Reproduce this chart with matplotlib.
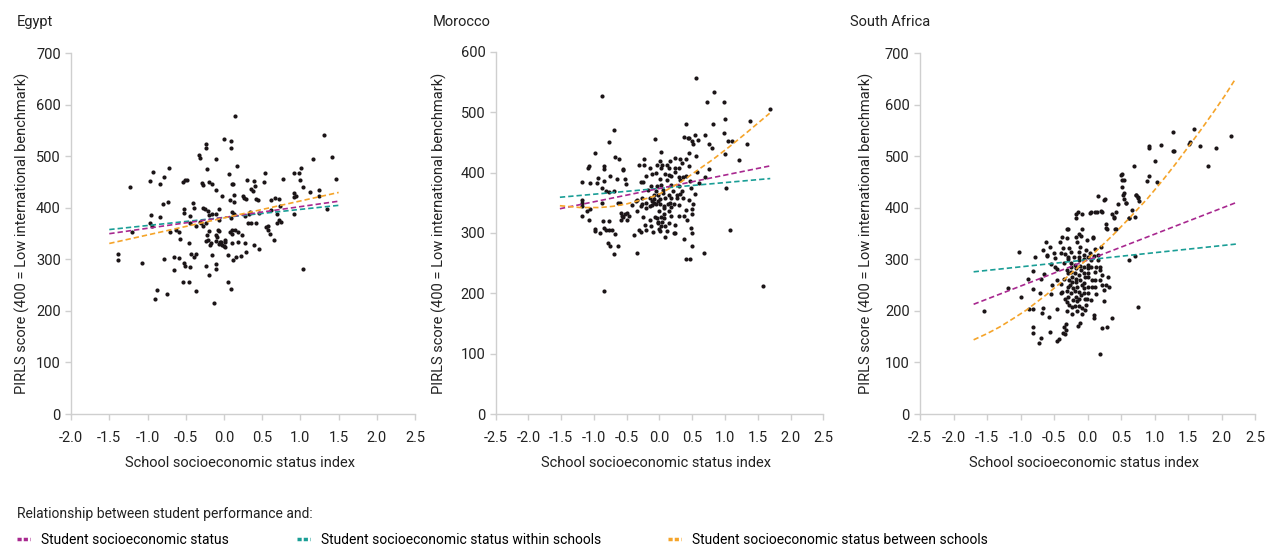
import matplotlib
matplotlib.use('Agg')
import matplotlib.pyplot as plt
from matplotlib.lines import Line2D

plt.rcParams['font.family'] = ['Roboto', 'DejaVu Sans']

# colours of the three relationships
c_sess = '#a8288f'
c_within = '#1a9e96'
c_between = '#f5a42a'
c_dot = '#1b1517'
c_axis = '#cfcfcf'
c_text = '#222222'

# --- Egypt: schools (SES index, PIRLS score)
egypt_x = [-1.39, -1.39, -1.23, -1.20, -1.07, -0.97, -0.97, -0.96, -0.94, -0.93,
           -0.90, -0.87, -0.84, -0.84, -0.80, -0.78, -0.78, -0.75, -0.73, -0.72,
           -0.71, -0.66, -0.66, -0.63, -0.59, -0.59, -0.58, -0.54, -0.52, -0.52,
           -0.53, -0.52, -0.51, -0.51, -0.49, -0.46, -0.46, -0.45, -0.45, -0.45,
           -0.43, -0.41, -0.39, -0.39, -0.37, -0.37, -0.36, -0.33, -0.31, -0.32,
           -0.30, -0.29, -0.28, -0.28, -0.27, -0.25, -0.24, -0.24, -0.24, -0.24,
           -0.23, -0.22, -0.22, -0.21, -0.21, -0.20, -0.19, -0.19, -0.19, -0.18,
           -0.17, -0.16, -0.16, -0.15, -0.13, -0.11, -0.11, -0.11, -0.11, -0.10,
           -0.10, -0.10, -0.09, -0.08, -0.07, -0.07, -0.07, -0.06, -0.05, -0.04,
           -0.03, -0.02, 0.00, 0.00, 0.01, 0.02, 0.02, 0.05, 0.05, 0.07,
           0.08, 0.08, 0.09, 0.09, 0.09, 0.09, 0.10, 0.10, 0.10, 0.10,
           0.11, 0.12, 0.12, 0.13, 0.13, 0.13, 0.14, 0.15, 0.16, 0.17,
           0.18, 0.18, 0.22, 0.24, 0.25, 0.26, 0.28, 0.28, 0.29, 0.29,
           0.30, 0.31, 0.33, 0.34, 0.35, 0.36, 0.38, 0.39, 0.39, 0.40,
           0.42, 0.42, 0.44, 0.46, 0.46, 0.52, 0.54, 0.55, 0.57, 0.58,
           0.60, 0.62, 0.62, 0.66, 0.67, 0.69, 0.70, 0.72, 0.72, 0.73,
           0.74, 0.77, 0.91, 0.91, 0.92, 0.92, 0.94, 0.98, 0.99, 1.01,
           1.03, 1.03, 1.12, 1.17, 1.24, 1.24, 1.31, 1.35, 1.41, 1.47]
egypt_y = [310, 299, 441, 353, 294, 453, 371, 386, 365, 470,
           224, 241, 447, 382, 408, 460, 301, 232, 411, 477,
           353, 304, 279, 358, 303, 353, 340, 451, 397, 391,
           257, 294, 287, 454, 455, 332, 257, 285, 384, 370,
           310, 409, 400, 305, 310, 365, 238, 503, 496, 373,
           371, 449, 444, 365, 400, 397, 288, 525, 516, 371,
           335, 476, 347, 394, 338, 270, 356, 386, 450, 328,
           332, 446, 389, 309, 216, 435, 494, 292, 282, 389,
           347, 336, 344, 357, 397, 329, 376, 355, 333, 334,
           328, 423, 533, 327, 325, 334, 337, 309, 256, 466,
           415, 353, 530, 517, 380, 243, 446, 393, 357, 349,
           332, 446, 298, 389, 412, 426, 358, 578, 305, 482,
           334, 353, 307, 347, 423, 420, 332, 384, 418, 315,
           455, 371, 389, 393, 371, 437, 432, 328, 453, 443,
           417, 371, 415, 391, 321, 451, 467, 362, 357, 365,
           349, 396, 415, 337, 419, 389, 370, 376, 417, 404,
           373, 457, 467, 429, 388, 422, 424, 467, 454, 477,
           281, 441, 431, 495, 424, 434, 541, 398, 499, 457]
egypt_line_x = [-1.5, 1.5]
egypt_sess = [350, 413]
egypt_within = [358, 405]
egypt_between_x = [-1.5, 1.5]
egypt_between = [331, 430]

# --- Morocco
morocco_x = [0.56, 0.83, -0.88, 0.72, 0.98, 1.68, 1.00, 1.38, 0.40, 0.82,
             0.99, -0.69, 0.69, 0.54, 1.10, 0.37, 0.43, 0.45, 0.58, 0.49,
             1.05, -0.07, 0.76, 1.33, 0.51, -0.77, 0.80, 0.02, -0.98, 1.00,
             0.45, 0.56, -0.68, -0.62, 0.23, -0.23, 0.31, 0.40, 1.22, 0.16,
             0.01, 0.35, -0.31, -0.24, -0.04, 0.04, 0.11, -1.08, -1.09, -0.85,
             -0.85, -0.55, -0.56, -0.15, 0.45, 0.75, 0.03, 0.14, 0.24, 0.30,
             0.57, -0.05, 0.09, 0.14, 0.23, 0.41, -0.75, -0.94, -0.52, -0.20,
             -0.11, 0.18, 0.29, 0.36, 0.70, -1.19, -1.06, -0.84, -0.65, -0.28,
             -0.25, 0.01, 0.11, 0.31, 0.46, -0.95, -0.51, -0.13, -0.04, 0.03,
             0.17, 0.29, 0.48, 0.61, -0.87, -0.82, -0.77, -0.69, -0.18, -0.06,
             0.06, 0.21, 0.35, -0.09, -0.02, 0.05, 0.14, 0.26, 0.31, 0.54,
             1.01, -0.27, -0.15, -0.08, 0.01, 0.08, 0.17, 0.26, 0.36, -1.19,
             -1.19, -0.87, -0.63, -0.61, -0.35, -0.36, -0.26, -0.21, -0.11, -0.08,
             -0.06, -0.02, 0.01, 0.07, 0.13, 0.16, 0.22, 0.30, 0.45, 0.51,
             -1.19, -0.42, -0.28, -0.21, -0.15, -0.12, 0.07, 0.17, 0.50, -1.11,
             -1.06, -0.35, -0.01, 0.14, 0.41, -0.52, -0.50, -0.58, 0.07, 0.17,
             0.38, -1.18, -0.57, -0.55, -0.46, -0.25, -0.07, 0.03, 0.50, -1.08,
             -0.59, -0.50, -0.04, 0.07, 0.30, -0.15, -0.03, 0.04, -0.86, -0.77,
             -0.02, 0.15, 0.42, -0.22, -0.13, 0.03, 0.09, 0.23, -0.98, -0.98,
             -0.91, -0.85, -0.81, -0.77, -0.73, -0.68, -0.39, -0.32, -0.28, -0.20,
             -0.10, -0.01, 0.01, 0.11, 0.22, 0.24, 0.48, 0.49, 1.08, 0.08,
             0.38, -0.79, -0.75, -0.63, -0.69, 0.49, -0.35, 0.68, 0.41, 0.46,
             -0.84, 1.58]
morocco_y = [556, 534, 527, 517, 517, 506, 488, 486, 481, 480,
             465, 470, 462, 462, 452, 458, 457, 457, 454, 452,
             453, 455, 448, 448, 447, 451, 440, 434, 433, 430,
             432, 428, 425, 423, 424, 422, 423, 422, 420, 419,
             419, 415, 412, 412, 413, 412, 413, 411, 408, 411,
             405, 406, 404, 407, 411, 406, 407, 407, 407, 407,
             401, 400, 398, 396, 401, 395, 394, 391, 390, 394,
             397, 394, 392, 392, 392, 384, 383, 386, 389, 385,
             385, 389, 387, 387, 386, 383, 381, 378, 378, 380,
             380, 378, 375, 383, 375, 369, 367, 369, 371, 369,
             371, 370, 369, 363, 362, 366, 363, 362, 364, 365,
             374, 358, 358, 356, 356, 358, 358, 358, 357, 355,
             350, 350, 350, 350, 355, 353, 348, 350, 352, 350,
             348, 352, 348, 345, 348, 350, 348, 347, 354, 348,
             344, 347, 344, 341, 344, 346, 341, 343, 339, 336,
             339, 337, 337, 337, 338, 331, 333, 333, 332, 328,
             328, 328, 328, 326, 328, 326, 327, 327, 332, 322,
             321, 321, 324, 324, 328, 322, 318, 318, 320, 320,
             316, 316, 321, 313, 312, 312, 312, 313, 306, 303,
             299, 308, 305, 305, 305, 298, 297, 305, 301, 305,
             301, 307, 303, 303, 300, 299, 308, 299, 305, 294,
             290, 283, 278, 279, 265, 279, 267, 267, 257, 256,
             203, 212]
morocco_line_x = [-1.52, 1.69]
morocco_sess = [340, 411]
morocco_within = [359, 390]
morocco_between_x = [-1.52, -1.21, -0.91, -0.71, -0.50, -0.30, -0.10, 0.01,
                     0.31, 0.57, 0.82, 1.07, 1.33, 1.68]
morocco_between = [345, 342, 342, 344, 348, 354, 360, 365,
                   383, 403, 422, 443, 466, 498]

# --- South Africa
sa_x = [-1.54, -1.03, -1.18, -0.99, -0.88, -0.82, -0.81, -0.81, -0.78, -0.89,
        -0.71, -0.70, -0.67, -0.65, -0.62, -0.61, -0.60, -0.56, -0.54, -0.53,
        -0.54, -0.57, -0.56, -0.82, -0.81, -0.72, -0.69, -0.66, -0.68, -0.50,
        -0.49, -0.48, -0.46, -0.45, -0.45, -0.43, -0.45, -0.41, -0.40, -0.40,
        -0.40, -0.38, -0.36, -0.38, -0.33, -0.35, -0.35, -0.33, -0.35, -0.36,
        -0.31, -0.29, -0.30, -0.28, -0.29, -0.29, -0.30, -0.29, -0.28, -0.29,
        -0.30, -0.29, -0.30, -0.28, -0.30, -0.32, -0.32, -0.33, -0.25, -0.24,
        -0.24, -0.25, -0.23, -0.23, -0.26, -0.22, -0.25, -0.22, -0.23, -0.23,
        -0.20, -0.19, -0.17, -0.19, -0.17, -0.17, -0.16, -0.18, -0.17, -0.16,
        -0.19, -0.16, -0.17, -0.14, -0.17, -0.17, -0.13, -0.10, -0.15, -0.11,
        -0.12, -0.13, -0.12, -0.11, -0.10, -0.13, -0.11, -0.09, -0.12, -0.10,
        -0.12, -0.13, -0.08, -0.09, -0.11, -0.14, -0.08, -0.08, -0.06, -0.06,
        -0.06, -0.06, -0.04, -0.05, -0.05, -0.06, -0.04, -0.03, -0.04, -0.01,
        -0.02, 0.00, 0.00, 0.01, 0.00, 0.01, 0.00, 0.01, -0.01, 0.04,
        0.04, 0.05, 0.05, 0.06, 0.07, 0.05, 0.08, 0.11, 0.11, 0.10,
        0.13, 0.11, 0.11, 0.11, 0.13, 0.10, 0.10, 0.16, 0.16, 0.15,
        0.18, 0.19, 0.19, 0.21, 0.21, 0.20, 0.22, 0.24, 0.24, 0.21,
        0.25, 0.26, 0.27, 0.29, 0.31, 0.32, 0.36, 0.18, 0.28, 0.29,
        0.36, 0.39, 0.41, 0.43, 0.42, 0.45, 0.52, 0.52, 0.52, 0.54,
        0.55, 0.58, 0.27, 0.62, 0.66, 0.71, 0.73, 0.75, 0.77, 0.71,
        0.75, 0.62, 0.69, 0.89, 0.91, 0.91, 1.01, 1.03, 1.10, 1.27,
        1.27, 1.29, 1.51, 1.53, 1.59, 1.68, 1.80, 1.91, 2.14, 0.92,
        0.50, 0.55, 0.53, 0.73, 0.76, 0.58, 0.05, 0.14, 0.20, 0.40,
        0.62, 0.08]
sa_y = [199, 314, 244, 228, 203, 203, 278, 242, 305, 262,
        234, 262, 318, 271, 334, 309, 307, 325, 292, 250,
        232, 189, 160, 168, 157, 138, 147, 205, 197, 312,
        303, 286, 281, 260, 204, 146, 142, 334, 312, 252,
        234, 237, 323, 343, 310, 294, 263, 224, 169, 157,
        359, 360, 341, 322, 305, 300, 279, 273, 261, 247,
        239, 228, 218, 212, 199, 174, 164, 155, 315, 294,
        286, 276, 266, 257, 250, 244, 234, 221, 207, 195,
        305, 289, 283, 273, 263, 257, 247, 239, 228, 219,
        210, 199, 389, 392, 380, 344, 349, 345, 334, 325,
        315, 305, 299, 287, 279, 270, 260, 250, 237, 231,
        224, 210, 205, 195, 177, 171, 389, 360, 309, 300,
        286, 273, 265, 255, 244, 234, 223, 212, 201, 338,
        318, 305, 289, 283, 274, 266, 246, 234, 224, 391,
        313, 299, 286, 260, 247, 221, 343, 392, 320, 307,
        286, 276, 260, 247, 233, 192, 186, 424, 309, 299,
        286, 279, 261, 250, 393, 325, 270, 241, 220, 166,
        415, 418, 250, 169, 266, 247, 186, 116, 369, 359,
        389, 383, 360, 360, 393, 408, 466, 455, 441, 429,
        417, 409, 361, 381, 396, 383, 425, 422, 413, 307,
        208, 299, 481, 452, 462, 517, 491, 451, 522, 548,
        510, 511, 525, 527, 554, 520, 482, 517, 539, 521,
        464, 455, 426, 425, 420, 409, 392, 393, 394, 381,
        381, 342]
sa_line_x = [-1.70, 2.23]
sa_sess = [213, 411]
sa_within = [276, 330]
sa_between_x = [-1.70, -1.50, -1.31, -1.10, -0.91, -0.61, -0.40, -0.21, 0.0, 0.20,
                0.40, 0.63, 0.90, 1.13, 1.30, 1.53, 1.70, 1.88, 2.05, 2.21]
sa_between = [144, 156, 169, 186, 202, 232, 255, 277, 301, 325,
              350, 381, 419, 455, 483, 523, 553, 586, 618, 651]

panels = [
    ('Egypt', egypt_x, egypt_y, egypt_line_x, egypt_sess, egypt_within,
     egypt_between_x, egypt_between, (-2.0, 2.5), 700),
    ('Morocco', morocco_x, morocco_y, morocco_line_x, morocco_sess, morocco_within,
     morocco_between_x, morocco_between, (-2.5, 2.5), 600),
    ('South Africa', sa_x, sa_y, sa_line_x, sa_sess, sa_within,
     sa_between_x, sa_between, (-2.5, 2.5), 700),
]
# axes boxes in figure fractions
boxes = [(0.0560, 0.2431, 0.2711, 0.6594),
         (0.3906, 0.2431, 0.2582, 0.6623),
         (0.7250, 0.2431, 0.2640, 0.6594)]
ylabel_x = [-0.119, -0.149, -0.137]
title_px = [17, 433, 850]

W, H = 1269, 547
fig = plt.figure(figsize=(W / 100, H / 100), dpi=100)
fs = 10.5
dash = (0, (3.2, 1.8))

for (name, px, py, lx, l_sess, l_within, bx, b_y, xlim, ytop), box, ylx, tx in zip(
        panels, boxes, ylabel_x, title_px):
    ax = fig.add_axes(box)
    ax.scatter(px, py, s=9, color=c_dot, linewidths=0, zorder=2)
    ax.plot(lx, l_within, color=c_within, lw=1.2, ls=dash, zorder=3)
    ax.plot(lx, l_sess, color=c_sess, lw=1.2, ls=dash, zorder=3)
    ax.plot(bx, b_y, color=c_between, lw=1.2, ls=dash, zorder=3)

    ax.set_xlim(*xlim)
    ax.set_ylim(0, ytop)
    xt = [xlim[0] + 0.5 * i for i in range(int(round((xlim[1] - xlim[0]) / 0.5)) + 1)]
    ax.set_xticks(xt)
    ax.set_xticklabels(['%.1f' % v for v in xt])
    ax.set_yticks(range(0, ytop + 1, 100))
    for s in ['top', 'right']:
        ax.spines[s].set_visible(False)
    for s in ['left', 'bottom']:
        ax.spines[s].set_color(c_axis)
        ax.spines[s].set_linewidth(1.0)
    ax.tick_params(colors=c_axis, labelcolor=c_text, labelsize=fs, length=4, width=1.0)
    ax.tick_params(axis='x', pad=8)
    ax.set_xlabel('School socioeconomic status index', fontsize=fs, color=c_text)
    ax.xaxis.set_label_coords(0.49, -0.116)
    ax.set_ylabel('PIRLS score (400 = Low international benchmark)', fontsize=fs, color=c_text)
    ax.yaxis.set_label_coords(ylx, 0.5)

    fig.text(tx / W, 1 - 22 / H, name, fontsize=fs, color=c_text, ha='left', va='center')

fig.text(17 / W, 1 - 514 / H, 'Relationship between student performance and:',
         fontsize=fs - 0.5, color=c_text, ha='left', va='center')

labels = ['Student socioeconomic status',
          'Student socioeconomic status within schools',
          'Student socioeconomic status between schools']
for c, lab, lx_px in zip((c_sess, c_within, c_between), labels, (17, 297, 668)):
    h = Line2D([], [], color=c, lw=2.5, ls=(0, (1.2, 0.6)))
    fig.legend([h], [lab], loc='center left', bbox_to_anchor=(lx_px / W, 1 - 540 / H),
               frameon=False, fontsize=fs - 0.5, handlelength=0.9,
               handletextpad=0.8, borderaxespad=0, borderpad=0)

fig.savefig('out.png', dpi=100)
